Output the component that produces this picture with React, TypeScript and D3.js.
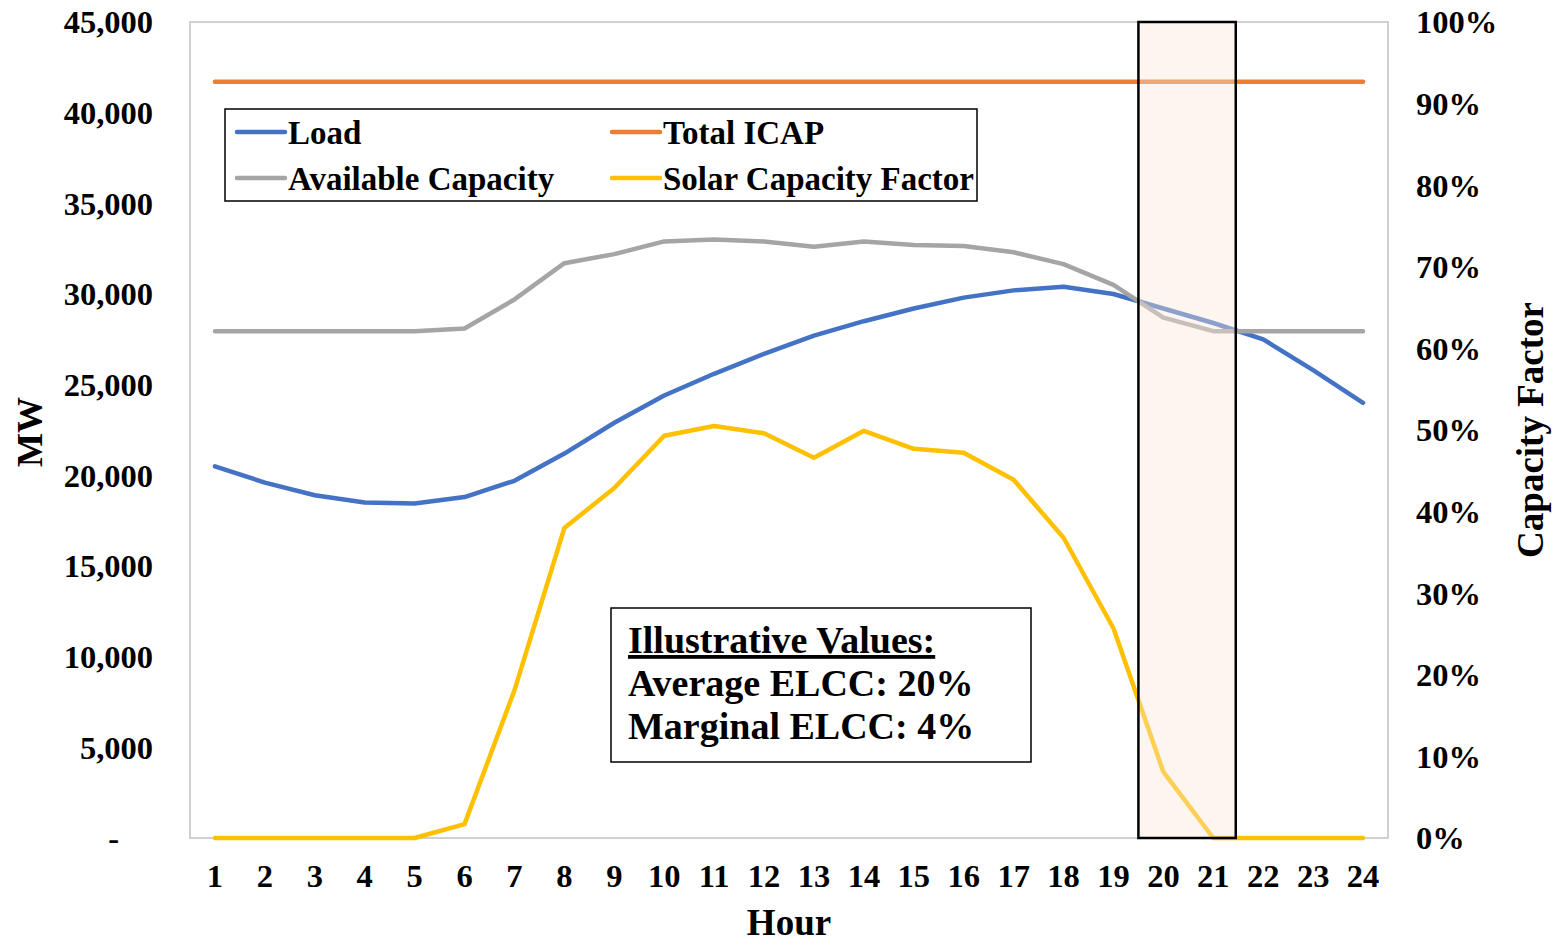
import React from "react";
import * as d3 from "d3";

const hours = d3.range(1, 25);
const load = [20500, 19600, 18900, 18500, 18450, 18800, 19700, 21200, 22900, 24400, 25600, 26700, 27700, 28500, 29200, 29800, 30200, 30400, 30000, 29200, 28400, 27500, 25800, 24000];
const totalIcap = [41700, 41700, 41700, 41700, 41700, 41700, 41700, 41700, 41700, 41700, 41700, 41700, 41700, 41700, 41700, 41700, 41700, 41700, 41700, 41700, 41700, 41700, 41700, 41700];
const availableCapacity = [27950, 27950, 27950, 27950, 27950, 28100, 29700, 31700, 32200, 32900, 33000, 32900, 32600, 32900, 32700, 32650, 32300, 31650, 30500, 28700, 27950, 27950, 27950, 27950];
const solarCF = [0, 0, 0, 0, 0, 0.017, 0.181, 0.38, 0.429, 0.493, 0.505, 0.496, 0.466, 0.499, 0.477, 0.472, 0.439, 0.368, 0.257, 0.081, 0, 0, 0, 0];
const leftTicks = [0, 5000, 10000, 15000, 20000, 25000, 30000, 35000, 40000, 45000];
const rightTicks = [0, 0.1, 0.2, 0.3, 0.4, 0.5, 0.6, 0.7, 0.8, 0.9, 1.0];
const highlightHours = [19.5, 21.45];
const annotationLines = ["Illustrative Values:", "Average ELCC: 20%", "Marginal ELCC: 4%"];

const FONT = "'Liberation Serif', 'Times New Roman', serif";

export default function App() {
  const W = 1555, H = 939;
  const left = 190, right = 1388, top = 22, bottom = 838;
  const x = d3.scaleLinear().domain([0.5, 24.5]).range([left, right]);
  const yL = d3.scaleLinear().domain([0, 45000]).range([bottom, top]);
  const yR = d3.scaleLinear().domain([0, 1]).range([bottom, top]);

  const lineL = (vals: number[]) =>
    d3.line<number>().x((_, i) => x(hours[i])).y((v) => yL(v))(vals) as string;
  const lineR = (vals: number[]) =>
    d3.line<number>().x((_, i) => x(hours[i])).y((v) => yR(v))(vals) as string;

  const fmtL = d3.format(",");
  const fmtR = d3.format(".0%");

  const series = [
    { name: "Load", color: "#4472C4", d: lineL(load) },
    { name: "Total ICAP", color: "#ED7D31", d: lineL(totalIcap) },
    { name: "Available Capacity", color: "#A5A5A5", d: lineL(availableCapacity) },
    { name: "Solar Capacity Factor", color: "#FFC000", d: lineR(solarCF) },
  ];

  const legendPos = [
    { x: 237, y: 132 },
    { x: 612, y: 132 },
    { x: 237, y: 178 },
    { x: 612, y: 178 },
  ];

  return (
    <svg width={W} height={H} style={{ position: "absolute", left: 0, top: 0, background: "#fff" }} fontFamily={FONT} fontWeight="bold">
      <rect x={0} y={0} width={W} height={H} fill="#fff" />
      {/* plot border */}
      <rect x={left} y={top} width={right - left} height={bottom - top} fill="none" stroke="#d0d0d0" strokeWidth={2} />

      {/* lines */}
      {series.map((s) => (
        <path key={s.name} d={s.d} fill="none" stroke={s.color} strokeWidth={4.5} strokeLinejoin="round" strokeLinecap="round" />
      ))}

      {/* highlight */}
      <rect x={x(highlightHours[0])} y={top} width={x(highlightHours[1]) - x(highlightHours[0])} height={bottom - top}
        fill="#FBE5D6" fillOpacity={0.4} stroke="#000" strokeWidth={2.5} />

      {/* left axis labels */}
      {leftTicks.map((t) => (
        <text key={t} x={t === 0 ? 119 : 153} y={yL(t)} dy="0.35em" textAnchor="end" fontSize={32.5} fill="#000">
          {t === 0 ? "-" : fmtL(t)}
        </text>
      ))}
      {/* right axis labels */}
      {rightTicks.map((t) => (
        <text key={t} x={1416} y={yR(t)} dy="0.35em" textAnchor="start" fontSize={32.5} fill="#000">
          {fmtR(t)}
        </text>
      ))}
      {/* x axis labels */}
      {hours.map((h) => (
        <text key={h} x={x(h)} y={887} textAnchor="middle" fontSize={32.5} fill="#000">
          {h}
        </text>
      ))}

      {/* axis titles */}
      <text transform={`translate(42,${(top + bottom) / 2 + 2}) rotate(-90)`} textAnchor="middle" fontSize={36} fill="#000">MW</text>
      <text transform={`translate(1543,${(top + bottom) / 2}) rotate(-90)`} textAnchor="middle" fontSize={37} fill="#000">Capacity Factor</text>
      <text x={789} y={935} textAnchor="middle" fontSize={37} fill="#000">Hour</text>

      {/* legend */}
      <rect x={225} y={109} width={752} height={92} fill="#fff" stroke="#000" strokeWidth={1.5} />
      {series.map((s, i) => (
        <g key={s.name}>
          <line x1={legendPos[i].x} x2={legendPos[i].x + 48} y1={legendPos[i].y} y2={legendPos[i].y} stroke={s.color} strokeWidth={4.5} strokeLinecap="round" />
          <text x={legendPos[i].x + 51} y={legendPos[i].y} dy="0.35em" fontSize={33} fill="#000">{s.name}</text>
        </g>
      ))}

      {/* annotation */}
      <rect x={611} y={608} width={420} height={154} fill="#fff" stroke="#000" strokeWidth={1.5} />
      {annotationLines.map((l, i) => (
        <text key={i} x={628} y={653 + i * 43} fontSize={38} fill="#000" textDecoration={i === 0 ? "underline" : undefined}>
          {l}
        </text>
      ))}
    </svg>
  );
}
